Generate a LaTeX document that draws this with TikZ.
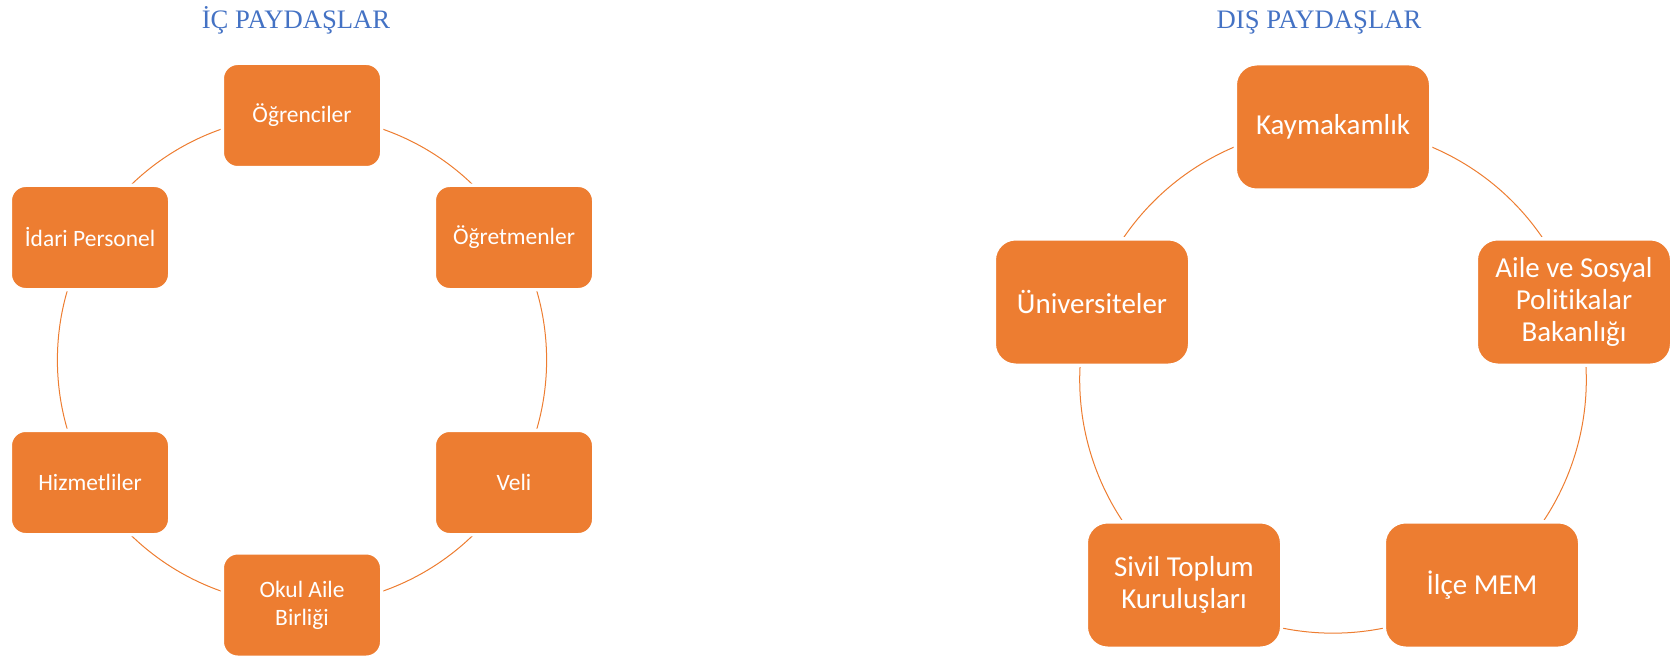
\documentclass[tikz,border=0pt]{standalone}
\usepackage{fontspec}
\setmainfont{Carlito}[Ligatures={NoCommon}]
\newfontfamily\titlefont{Liberation Serif}
\usepackage{tikz}
\usetikzlibrary{shapes,arrows,positioning,backgrounds}

\definecolor{boxorange}{HTML}{ED7D31}
\definecolor{titleblue}{HTML}{4472C4}

\begin{document}
\begin{tikzpicture}[x=0.75pt, y=-0.75pt, auto]
    % Define block styles
    \tikzstyle{block} = [rectangle, draw=white, line width=2.5pt, fill=boxorange, text=white, align=center, rounded corners=11.5pt, minimum width=119.5pt, minimum height=78.25pt, font=\fontsize{17.6}{21}\selectfont]
    \tikzstyle{bigblock} = [block, rounded corners=16pt, minimum width=146.5pt, minimum height=94.75pt, font=\fontsize{21.7}{24}\selectfont]
    \tikzstyle{title} = [text=titleblue, font=\titlefont\fontsize{20}{24}\selectfont, anchor=base]
    \tikzstyle{ring} = [draw=boxorange, line width=0.75pt]

    \useasboundingbox (0,0) rectangle (1670,656);

    % Titles
    \node [title] (Ic_Title) at (296,29) {İÇ PAYDAŞLAR};
    \node [title] (Dis_Title) at (1319,29) {DIŞ PAYDAŞLAR};

    % Nodes (ic paydaslar)
    \node [block] (Ogrenciler) at (302,115.5) {Öğrenciler};
    \node [block] (Ogretmenler) at (514,237.5) {Öğretmenler};
    \node [block] (Veli) at (514,482.5) {Veli};
    \node [block] (Okul_Aile) at (302,605) {Okul Aile\\Birliği};
    \node [block] (Hizmetliler) at (90,482.5) {Hizmetliler};
    \node [block] (Idari_Personel) at (90,237.5) {İdari Personel};

    % Nodes (dis paydaslar)
    \node [bigblock] (Kaymakamlik) at (1333,127) {Kaymakamlık};
    \node [bigblock] (Aile_Sosyal) at (1574,302) {Aile ve Sosyal\\Politikalar\\Bakanlığı};
    \node [bigblock] (Ilce_MEM) at (1482,585) {İlçe MEM};
    \node [bigblock] (Sivil_Toplum) at (1184,585) {Sivil Toplum\\Kuruluşları};
    \node [bigblock] (Universiteler) at (1092,302) {Üniversiteler};

    % Arcs
    \begin{pgfonlayer}{background}
    \path [ring] (Ogrenciler.center) to[bend left=30, looseness=0.91] (Ogretmenler.center);
    \path [ring] (Ogretmenler.center) to[bend left=30, looseness=0.91] (Veli.center);
    \path [ring] (Veli.center) to[bend left=30, looseness=0.91] (Okul_Aile.center);
    \path [ring] (Okul_Aile.center) to[bend left=30, looseness=0.91] (Hizmetliler.center);
    \path [ring] (Hizmetliler.center) to[bend left=30, looseness=0.91] (Idari_Personel.center);
    \path [ring] (Idari_Personel.center) to[bend left=30, looseness=0.91] (Ogrenciler.center);

    \path [ring] (Kaymakamlik.center) to[bend left=36, looseness=0.94] (Aile_Sosyal.center);
    \path [ring] (Aile_Sosyal.center) to[bend left=36, looseness=0.94] (Ilce_MEM.center);
    \path [ring] (Ilce_MEM.center) to[bend left=36, looseness=0.94] (Sivil_Toplum.center);
    \path [ring] (Sivil_Toplum.center) to[bend left=36, looseness=0.94] (Universiteler.center);
    \path [ring] (Universiteler.center) to[bend left=36, looseness=0.94] (Kaymakamlik.center);
    \end{pgfonlayer}

  \end{tikzpicture}
\end{document}
